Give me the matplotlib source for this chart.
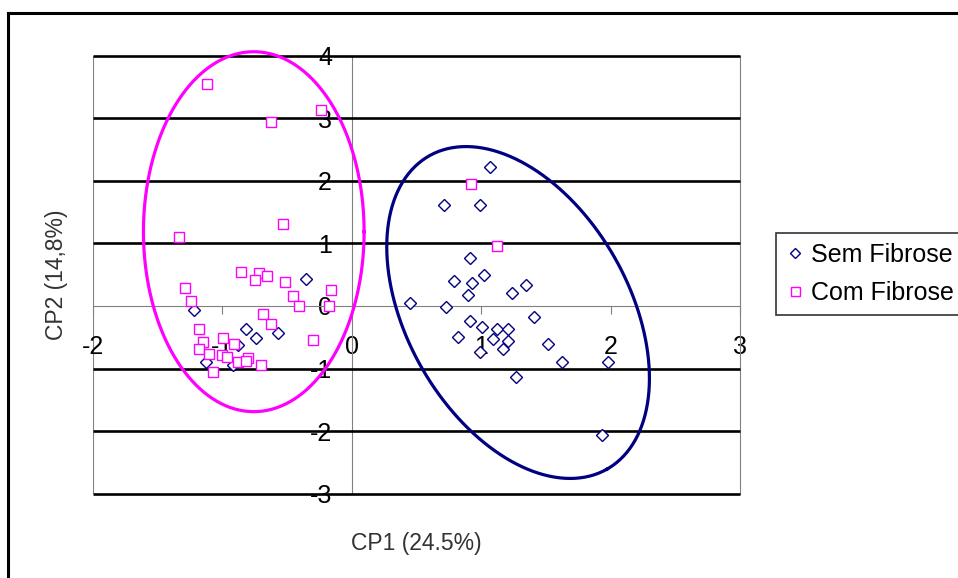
import numpy as np
import matplotlib
matplotlib.use("Agg")
import matplotlib.pyplot as plt
from matplotlib.lines import Line2D

plt.rcParams['font.family'] = ['Liberation Sans', 'DejaVu Sans']
plt.rcParams['axes.unicode_minus'] = False

# Sem Fibrose (diamonds)
sem_x = [1.069, 0.714, 0.992, 0.915, 0.792, 1.023, 0.93, 0.90, 1.24, 1.345,
         0.452, 0.727, 1.407, 0.915, 1.005, 1.126, 1.211, 0.82, 1.095, 1.211,
         0.992, 1.172, 1.515, 1.623, 1.978, 1.268, 1.934,
         -0.349, -1.216, -0.815, -0.735, -0.565, -0.874, -1.124, -0.913]
sem_y = [2.215, 1.61, 1.61, 0.76, 0.40, 0.495, 0.36, 0.176, 0.20, 0.335,
         0.04, -0.01, -0.17, -0.24, -0.33, -0.367, -0.367, -0.49, -0.527, -0.56,
         -0.73, -0.69, -0.61, -0.90, -0.90, -1.14, -2.06,
         0.43, -0.064, -0.367, -0.516, -0.436, -0.623, -0.89, -0.95]

# Com Fibrose (squares)
com_x = [-1.118, -0.235, -0.624, -0.527, -1.334, -0.853, -0.714, -0.65, -0.745, -0.514,
         -1.283, -0.161, -0.452, -1.237, -0.403, -0.176, -0.683, -0.619, -1.178, -0.30,
         -1.144, -0.992, -0.907, -1.178, -1.10, -0.998, -0.959, -0.874, -0.797, -0.815,
         -0.699, -1.072, 0.923, 1.124]
com_y = [3.55, 3.13, 2.94, 1.31, 1.11, 0.543, 0.52, 0.485, 0.415, 0.39,
         0.29, 0.256, 0.165, 0.08, 0.0, 0.0, -0.12, -0.29, -0.37, -0.54,
         -0.57, -0.506, -0.60, -0.687, -0.76, -0.79, -0.82, -0.89, -0.835, -0.88,
         -0.95, -1.05, 1.95, 0.96]

x_ticks = [-2, -1, 0, 1, 2, 3]
y_ticks = [-3, -2, -1, 0, 1, 2, 3, 4]

# ellipses drawn around the groups (centre + conjugate semi-diameters)
mag_c, mag_u, mag_v = (-0.755, 1.187), (0.852, 0.0), (0.0, 2.875)
navy_c, navy_u, navy_v = (1.286, -0.104), (0.687, -2.502), (-0.746, -0.876)

fig = plt.figure(figsize=(9.58, 5.78), dpi=100)
ax = fig.add_axes([0.0966, 0.1457, 0.6759, 0.7581])

ax.set_xlim(-2, 3)
ax.set_ylim(-3, 4)

for y in y_ticks:
    if y != 0:
        ax.axhline(y, color='black', lw=1.9, zorder=2.6, clip_on=False,
                   solid_capstyle='butt')
ax.axvline(-2, color='#808080', lw=0.8, zorder=0.5)

ax.spines['left'].set_position(('data', 0))
ax.spines['bottom'].set_position(('data', 0))
ax.spines['top'].set_visible(False)
for s in ax.spines.values():
    s.set_color('#808080')
    s.set_linewidth(0.8)
ax.set_xticks(x_ticks)
ax.set_yticks(y_ticks)
ax.set_xticklabels([str(v) for v in x_ticks])
ax.set_yticklabels([str(v) for v in y_ticks])
ax.tick_params(axis='x', direction='out', length=5.5, width=0.8, color='#808080',
               pad=15.5, labelsize=18)
ax.tick_params(axis='y', direction='out', length=0, pad=14, labelsize=18)

t = np.linspace(0, 2 * np.pi, 300)
for c, u, v, col in [(mag_c, mag_u, mag_v, '#FF00FF'), (navy_c, navy_u, navy_v, '#000080')]:
    ex = c[0] + u[0] * np.cos(t) + v[0] * np.sin(t)
    ey = c[1] + u[1] * np.cos(t) + v[1] * np.sin(t)
    ax.plot(ex, ey, color=col, lw=2.3, zorder=4, clip_on=False)

ax.plot(sem_x, sem_y, linestyle='none', marker='D', ms=6.0, mfc='white', mec='#000080',
        mew=1.0, label='Sem Fibrose', zorder=3)
ax.plot(com_x, com_y, linestyle='none', marker='s', ms=7.2, mfc='white', mec='#FF00FF',
        mew=1.0, label='Com Fibrose', zorder=3)

ax.set_xlabel('CP1 (24.5%)', fontsize=16.5, color='#333333')
ax.set_ylabel('CP2 (14,8%)', fontsize=16.5, color='#333333')
ax.xaxis.set_label_coords(0.5, -0.087)
ax.yaxis.set_label_coords(-0.038, 0.5)

leg = fig.legend(loc='upper left', bbox_to_anchor=(776 / 958, 1 - 233 / 578),
                 fontsize=18, frameon=True, fancybox=False, handlelength=0.7,
                 handletextpad=0.3, borderpad=0.4, labelspacing=0.55,
                 borderaxespad=0, markerscale=0.9)
leg.get_frame().set_edgecolor('black')
leg.get_frame().set_linewidth(1.2)

# outer chart frame
fig.add_artist(Line2D([8 / 958, 1.05], [1 - 13 / 578] * 2, transform=fig.transFigure,
                      color='black', lw=2.2))
fig.add_artist(Line2D([8 / 958] * 2, [-0.05, 1 - 13 / 578], transform=fig.transFigure,
                      color='black', lw=2.2))

fig.savefig('out.png', dpi=100)
